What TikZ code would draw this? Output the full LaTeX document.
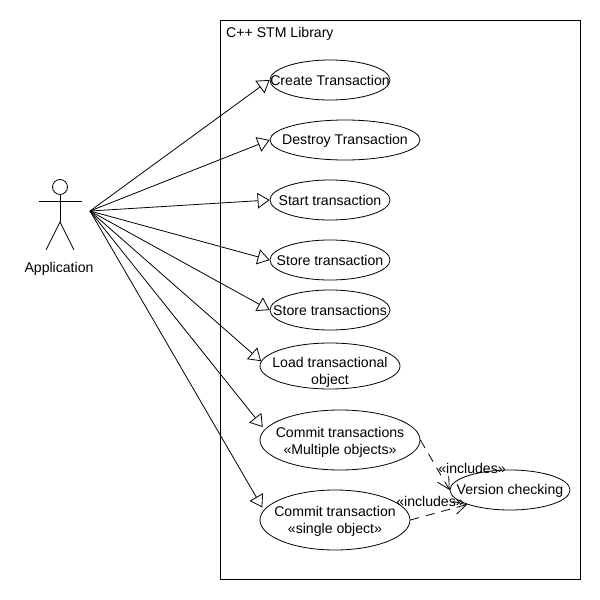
\documentclass[tikz,border=0pt]{standalone}
\usepackage{fontspec}
\setmainfont{Liberation Sans}
\usetikzlibrary{arrows.meta}
\usetikzlibrary{shapes.geometric}

\begin{document}
\begin{tikzpicture}[x=1pt,y=-1pt,font=\fontsize{14.1}{16.5}\selectfont]
   \tikzset{UseCase/.style 2 args={draw,ellipse,inner sep=0pt,line width=0.8pt,label={[align=center,inner sep=0pt,yshift=#2]center:#1}}}
   \tikzset{Generalize/.style={-{Triangle[open,length=12pt,width=15.5pt]},line width=0.8pt}}
   \tikzset{Includes/.style={dashed,dash pattern=on 9pt off 7pt,-{Straight Barb[length=12pt,width=13pt]},line width=0.8pt}}
   \tikzset{Figure/.style={line width=0.8pt}}
   \useasboundingbox (0,0) rectangle (600,600);
   \node[draw,line width=0.8pt,minimum width=360pt,minimum height=559pt,anchor=north west,inner sep=0pt] (library) at (220,20) {};
   \node[anchor=west,inner sep=0pt] (title) at (226,34) {C++ STM Library};
   % actor
   \node[draw,circle,minimum size=15pt,inner sep=0pt,line width=0.8pt] (head) at (60,187) {};
   \coordinate (armL) at (39,201);
   \coordinate (armR) at (82,201);
   \coordinate (hip) at (60,222);
   \coordinate (footL) at (46,250);
   \coordinate (footR) at (74,250);
   \coordinate (hub) at (90,211);
   \draw[Figure] (head) -- (hip);
   \draw[Figure] (armL) -- (armR);
   \draw[Figure] (footL) -- (hip) -- (footR);
   \node (actor) at (59,269) {Application};
   % use cases
   \node[UseCase={Create Transaction}{-0.5pt},minimum width=120pt,minimum height=40pt] (create) at (330,80) {};
   \node[UseCase={Destroy Transaction}{-0.5pt},minimum width=150pt,minimum height=40pt] (destroy) at (345,140) {};
   \node[UseCase={Start transaction}{-0.5pt},minimum width=120pt,minimum height=40pt] (start) at (330,200) {};
   \node[UseCase={Store transaction}{-0.5pt},minimum width=120pt,minimum height=40pt] (store) at (330,260) {};
   \node[UseCase={Store transactions}{-0.5pt},minimum width=120pt,minimum height=40pt] (stores) at (330,310) {};
   \node[UseCase={Load transactional\\object}{-6.5pt},minimum width=140pt,minimum height=46pt] (load) at (330,366) {};
   \node[UseCase={Commit transactions\\«Multiple objects»}{-2.5pt},minimum width=160pt,minimum height=60pt] (multi) at (340,440) {};
   \node[UseCase={Commit transaction\\«single object»}{-1.5pt},minimum width=150pt,minimum height=60pt] (single) at (335,520) {};
   \node[UseCase={Version checking}{-0.5pt},minimum width=120pt,minimum height=40pt] (version) at (510,490) {};
   % links
   \draw[Generalize] (hub) -- (create.west);
   \draw[Generalize] (hub) -- (destroy.west);
   \draw[Generalize] (hub) -- (start.west);
   \draw[Generalize] (hub) -- (store.west);
   \draw[Generalize] (hub) -- (stores.west);
   \draw[Generalize] (hub) -- (load.176);
   \draw[Generalize,shorten >=3pt] (hub) -- (multi.172);
   \draw[Generalize,shorten >=3pt] (hub) -- (single.172);
   \draw[Includes] (multi.east) -- (version.west);
   \draw[Includes] (single.east) -- (version.south west);
   \node (incA) at (472,468) {«includes»};
   \node (incB) at (430,501) {«includes»};
\end{tikzpicture}
\end{document}
